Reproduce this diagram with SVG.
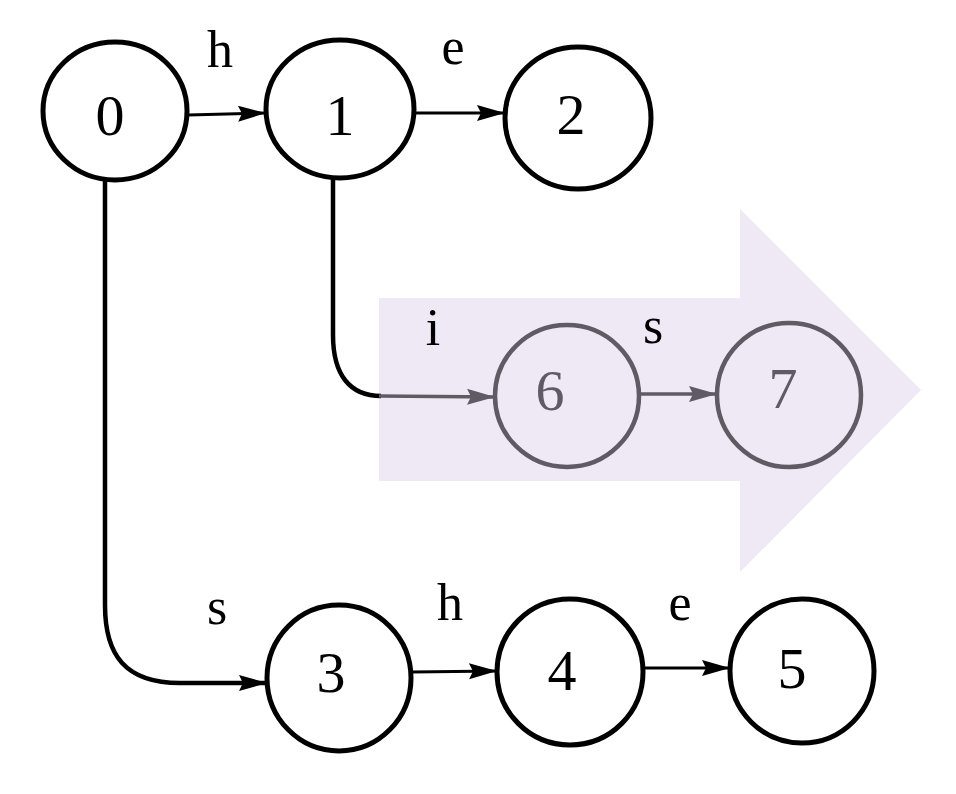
<svg xmlns="http://www.w3.org/2000/svg" width="956" height="794" viewBox="0 0 956 794">
<defs>
<style>
.n{fill:none;stroke:#000;stroke-width:5}
.ng{fill:none;stroke:#5f5a64;stroke-width:4.5}
.t{font-family:"Liberation Serif","Times New Roman",serif;font-size:58px;text-anchor:middle;fill:#000}
.tg{fill:#5f5a64}
.l{font-family:"Liberation Serif","Times New Roman",serif;font-size:52px;text-anchor:middle;fill:#000}
.e{fill:none;stroke:#000;stroke-width:3}
.ev{fill:none;stroke:#000;stroke-width:4.5}
.eg{fill:none;stroke:#5f5a64;stroke-width:3.5}
</style>
<marker id="ah" markerUnits="userSpaceOnUse" markerWidth="30" markerHeight="18" refX="28" refY="8" orient="auto">
<path d="M0,0 L28,8 L0,16 L4,8 z" fill="#000"/>
</marker>
<marker id="ahg" markerUnits="userSpaceOnUse" markerWidth="30" markerHeight="18" refX="28" refY="8" orient="auto">
<path d="M0,0 L28,8 L0,16 L4,8 z" fill="#5f5a64"/>
</marker>
</defs>
<rect width="956" height="794" fill="#fff"/>
<polygon id="highlight" points="379,298 740,298 740,209 921,390 740,572 740,481 379,481" fill="#eee9f4"/>
<g id="connectors">
<path class="e" d="M188,115 L266,113" marker-end="url(#ah)"/>
<path class="e" d="M414,113 L505,113" marker-end="url(#ah)"/>
<path class="ev" d="M105,181 L105,605 C105,655 125,683 180,683 L267,683" marker-end="url(#ah)"/>
<path class="ev" d="M333,178 L333,335 C333,375 350,396 381,396"/>
<path class="eg" d="M379,396 L495,397" marker-end="url(#ahg)"/>
<path class="eg" d="M640,394 L717,394" marker-end="url(#ahg)"/>
<path class="e" d="M412,672 L497,671" marker-end="url(#ah)"/>
<path class="e" d="M643,668 L730,668" marker-end="url(#ah)"/>
</g>
<g id="labels">
<text class="l" x="220" y="67">h</text>
<text class="l" x="453" y="64">e</text>
<text class="l tg" x="433" y="345">i</text>
<text class="l tg" x="653" y="343">s</text>
<text class="l" x="217" y="624">s</text>
<text class="l" x="450" y="620">h</text>
<text class="l" x="680" y="620">e</text>
</g>
<g id="node0"><ellipse class="n" cx="115" cy="111" rx="72" ry="69"/><text class="t" x="110" y="135">0</text></g>
<g id="node1"><ellipse class="n" cx="340" cy="109" rx="74" ry="69"/><text class="t" x="340" y="135">1</text></g>
<g id="node2"><ellipse class="n" cx="578" cy="118" rx="73" ry="71"/><text class="t" x="571" y="134">2</text></g>
<g id="node6"><ellipse class="ng" cx="567" cy="396" rx="72" ry="71"/><text class="t tg" x="550" y="410">6</text></g>
<g id="node7"><ellipse class="ng" cx="789" cy="395" rx="72" ry="72"/><text class="t tg" x="783" y="408">7</text></g>
<g id="node3"><ellipse class="n" cx="339" cy="678" rx="72" ry="73"/><text class="t" x="331" y="692">3</text></g>
<g id="node4"><ellipse class="n" cx="570" cy="672" rx="73" ry="73"/><text class="t" x="562" y="690">4</text></g>
<g id="node5"><ellipse class="n" cx="802" cy="671" rx="72" ry="72"/><text class="t" x="792" y="688">5</text></g>
</svg>
